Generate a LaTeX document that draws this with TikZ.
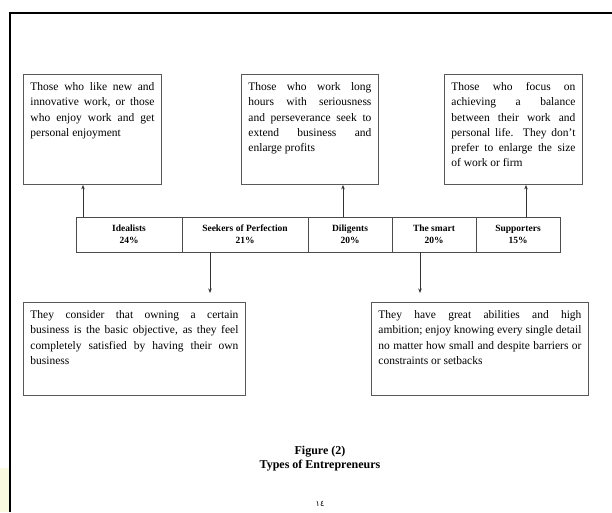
\documentclass[tikz,border=0pt]{standalone}
\usepackage{fontspec}
\setmainfont{Liberation Serif}
\newfontfamily\arabicfont[Script=Arabic]{DejaVu Sans}
\usetikzlibrary{arrows.meta}

\definecolor{pagecream}{RGB}{250,250,224}
\hyphenpenalty=10000
\tolerance=9000

\tikzset{
  descbox/.style={draw=black!65, line width=0.9pt, anchor=north west,
    inner sep=7pt, text height=9pt, align=justify,
    font=\fontsize{11.5}{15.3}\selectfont},
  typecell/.style={draw=black!70, line width=0.8pt, minimum height=35pt,
    inner sep=0pt, align=center, font=\fontsize{9.5}{12}\selectfont\bfseries},
  link/.style={draw=black!80, line width=0.8pt, -{Stealth[length=4.5pt,width=3.5pt]}},
}

\begin{document}
\begin{tikzpicture}[x=1pt, y=-1pt]
    \useasboundingbox (0,0) rectangle (612,512);
    \fill[pagecream] (0,468) rectangle (9,512);

    % Page frame
    \draw[line width=2.5pt] (10,512) -- (10,13) -- (612,13);

    % Top boxes
    \node[descbox, text width=124pt, text depth=87pt] (likenew) at (23,74)
        {Those who like new and\linebreak innovative work, or those\linebreak
         who enjoy work and get\linebreak personal enjoyment};
    \node[descbox, text width=123pt, text depth=87pt] (worklong) at (241,74)
        {Those who work long\linebreak hours with seriousness\linebreak
         and perseverance seek to\linebreak extend business and\linebreak
         enlarge profits};
    \node[descbox, text width=124pt, text depth=87pt] (balance) at (444,74)
        {Those who focus on\linebreak achieving a balance\linebreak
         between their work and\linebreak personal life.\ \ They don’t\linebreak
         prefer to enlarge the size\linebreak of work or firm};

    % Types of entrepreneurs
    \node[typecell, minimum width=106pt] (idl) at (129,234.5) {Idealists\\24\%};
    \node[typecell, minimum width=126pt] (skr) at (245,234.5) {Seekers of Perfection\\21\%};
    \node[typecell, minimum width=84pt] (dil) at (350,234.5) {Diligents\\20\%};
    \node[typecell, minimum width=84pt] (smt) at (434,234.5) {The smart\\20\%};
    \node[typecell, minimum width=84pt] (sup) at (518,234.5) {Supporters\\15\%};

    % Bottom boxes
    \node[descbox, text width=208pt, text depth=70pt] (owning) at (23,302)
        {They consider that owning a certain\linebreak business is the basic objective, as they feel\linebreak
         completely satisfied by having their own\linebreak business};
    \node[descbox, text width=203pt, text depth=70pt] (ability) at (371,302)
        {They have great abilities and high\linebreak ambition; enjoy knowing every single detail\linebreak
         no matter how small and despite barriers or\linebreak constraints or setbacks};

    % Arrows
    \draw[link] ([xshift=-46pt]idl.north) -- ([xshift=-46pt]idl.north |- likenew.south);
    \draw[link] ([xshift=-7pt]dil.north) -- ([xshift=-7pt]dil.north |- worklong.south);
    \draw[link] ([xshift=8pt]sup.north) -- ([xshift=8pt]sup.north |- balance.south);
    \draw[link, shorten >=9pt] ([xshift=-35pt]skr.south) -- ([xshift=-35pt]skr.south |- owning.north);
    \draw[link, shorten >=9pt] ([xshift=-14pt]smt.south) -- ([xshift=-14pt]smt.south |- ability.north);

    % Caption
    \node[align=center, font=\fontsize{12}{14}\selectfont\bfseries] (caption) at (320,459)
        {Figure (2)\\Types of Entrepreneurs};
    \node[font=\arabicfont\fontsize{8}{9}\selectfont] (pagenum) at (320,504) {١٤};
\end{tikzpicture}
\end{document}
